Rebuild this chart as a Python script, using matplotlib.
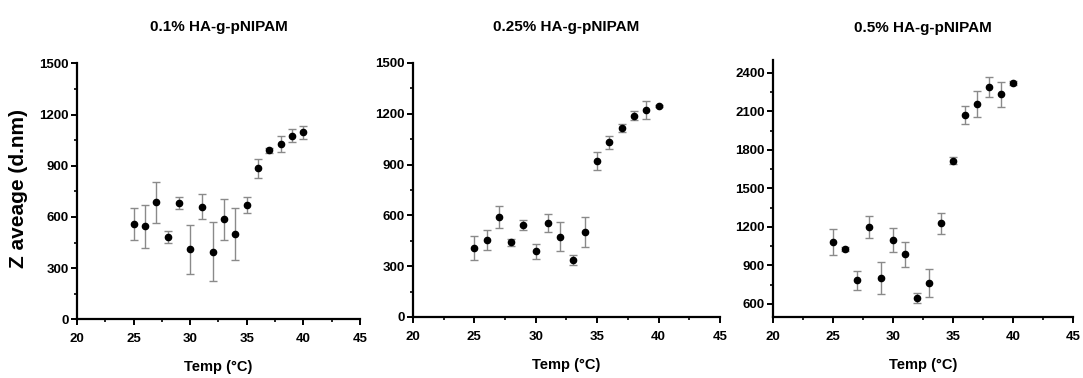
import matplotlib.pyplot as plt
import numpy as np
from matplotlib.ticker import MultipleLocator

plt.rcParams['font.family'] = ['Liberation Sans', 'DejaVu Sans']

temp = [25, 26, 27, 28, 29, 30, 31, 32, 33, 34, 35, 36, 37, 38, 39, 40]

# 0.1% HA-g-pNIPAM
z_01 = [560, 545, 685, 480, 680, 410, 660, 395, 585, 500, 670, 885, 990, 1030, 1075, 1095]
err_01 = [95, 125, 122, 35, 35, 142, 73, 173, 121, 155, 48, 55, 15, 47, 38, 38]

# 0.25% HA-g-pNIPAM
z_025 = [408, 453, 590, 441, 545, 388, 555, 475, 337, 502, 921, 1031, 1116, 1189, 1220, 1246]
err_025 = [73, 60, 63, 22, 30, 45, 51, 87, 30, 88, 55, 38, 25, 28, 53, 8]

# 0.5% HA-g-pNIPAM
z_05 = [1084, 1029, 784, 1200, 804, 1099, 985, 644, 765, 1228, 1717, 2069, 2157, 2289, 2232, 2320]
err_05 = [103, 15, 75, 83, 124, 93, 100, 41, 109, 82, 25, 70, 102, 75, 100, 15]

titles = ['0.1% HA-g-pNIPAM', '0.25% HA-g-pNIPAM', '0.5% HA-g-pNIPAM']
series = [(z_01, err_01), (z_025, err_025), (z_05, err_05)]
ylims = [(0, 1500), (0, 1500), (500, 2500)]
yticks = [np.arange(0, 1501, 300), np.arange(0, 1501, 300), np.arange(600, 2401, 300)]
# axes boxes in figure fractions
boxes = [[0.0711, 0.1553, 0.2613, 0.677],
         [0.3813, 0.1614, 0.2835, 0.672],
         [0.7138, 0.1622, 0.2770, 0.679]]
title_pads = [23, 23, 20]

fig = plt.figure(figsize=(10.83, 3.78), dpi=100)

for i in range(3):
    ax = fig.add_axes(boxes[i])
    z, e = series[i]
    ax.errorbar(temp, z, yerr=e, fmt='o', color='black', markersize=4.5,
                ecolor='#8a8a8a', elinewidth=1.0, capsize=2.8, capthick=1.0)
    ax.set_xlim(20, 45)
    ax.set_ylim(*ylims[i])
    ax.set_xticks(np.arange(20, 46, 5))
    ax.set_yticks(yticks[i])
    ax.xaxis.set_minor_locator(MultipleLocator(2.5))
    ax.yaxis.set_minor_locator(MultipleLocator(150))
    for s in ['top', 'right']:
        ax.spines[s].set_visible(False)
    for s in ['left', 'bottom']:
        ax.spines[s].set_linewidth(1.6)
    ax.tick_params(which='major', direction='out', length=4, width=1.4,
                   labelsize=9.5, pad=2)
    ax.tick_params(axis='x', which='major', pad=6)
    ax.tick_params(which='minor', direction='out', length=2.5, width=1.2)
    for lab in ax.get_xticklabels() + ax.get_yticklabels():
        lab.set_fontweight('bold')
    ax.set_title(titles[i], fontsize=11, fontweight='bold', pad=title_pads[i])
    ax.set_xlabel('Temp (\u00b0C)', fontsize=10.5, fontweight='bold', labelpad=11)

fig.text(0.017, 0.50, 'Z aveage (d.nm)', rotation=90, ha='center', va='center',
         fontsize=15, fontweight='bold')

fig.savefig('out.png', dpi=100)
